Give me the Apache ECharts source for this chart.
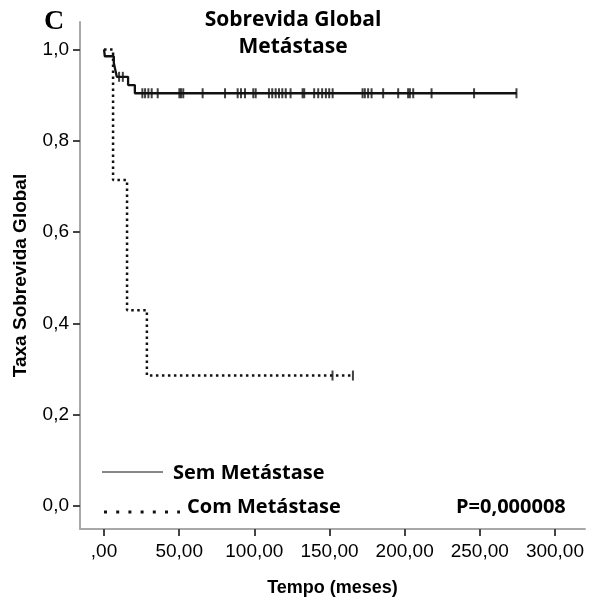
<!DOCTYPE html>
<html>
<head>
<meta charset="utf-8">
<script src="https://cdn.jsdelivr.net/npm/echarts@6/dist/echarts.min.js"></script>
<style>html,body{margin:0;padding:0;background:#fff;}#c{width:589px;height:604px;}</style>
</head>
<body>
<div id="c"></div>
<script>
// Kaplan-Meier steps: [time (months), survival]
const semMetastase = [[0,1],[0.5,0.985],[6.5,0.97],[7.5,0.955],[8.5,0.94],[16,0.922],[20.5,0.904],[274.5,0.904]];
const comMetastase = [[0,1],[6,0.714],[15.3,0.429],[28.5,0.286],[165.6,0.286]];
// censored times
const semCensorTimes = [10,12.5,25.5,27.3,29.5,31.7,35.7,50.1,51.2,52.7,65.6,80.5,88.9,91.1,93.8,99.3,100.9,109.7,111.9,114.2,116.4,118.6,120.9,124.1,132.1,133.2,139.8,142.5,145.1,147.6,149.8,152.1,172,173.5,175.7,178,185.7,195.7,202.3,203.5,205.7,217.9,246.2,274.4];
const semCensorLevel = [0.94,0.94];
const comCensorTimes = [152,165.6];
const xTicks = [0,50,100,150,200,250,300];
const yTicks = [0,0.2,0.4,0.6,0.8,1.0];

function survAt(data, t){ let s = data[0][1]; for (const p of data){ if (p[0] <= t) s = p[1]; } return s; }
const semCensor = semCensorTimes.map((t,i)=>[t, i < semCensorLevel.length ? semCensorLevel[i] : survAt(semMetastase,t)]);
const comCensor = comCensorTimes.map(t=>[t, survAt(comMetastase,t)]);

const chart = echarts.init(document.getElementById('c'), null, {renderer:'canvas'});
chart.setOption({
  animation:false,
  backgroundColor:'#fff',
  grid:{left:80,right:4,top:22,bottom:75,containLabel:false},
  xAxis:{
    type:'value', min:-16, max:320,
    axisLine:{show:true,onZero:false,lineStyle:{color:'#a8a8a8',width:2}},
    axisTick:{show:true,customValues:xTicks,length:7,lineStyle:{color:'#444',width:2}},
    axisLabel:{customValues:xTicks,margin:13,color:'#000',fontFamily:'Liberation Sans',fontSize:19,
      formatter:v=> v===0 ? ',00' : v.toFixed(2).replace('.',',')},
    splitLine:{show:false},
    name:'Tempo (meses)', nameLocation:'middle', nameGap:50,
    nameTextStyle:{fontFamily:'Liberation Sans',fontWeight:'bold',fontSize:18,color:'#000'}
  },
  yAxis:{
    type:'value', min:-0.05, max:1.06,
    axisLine:{show:true,onZero:false,lineStyle:{color:'#a8a8a8',width:2}},
    axisTick:{show:true,customValues:yTicks,length:7,lineStyle:{color:'#444',width:2}},
    axisLabel:{customValues:yTicks,margin:11,color:'#000',fontFamily:'Liberation Sans',fontSize:19,
      formatter:v=> v.toFixed(1).replace('.',',')},
    splitLine:{show:false},
    name:'Taxa Sobrevida Global', nameLocation:'middle', nameGap:50,
    nameTextStyle:{fontFamily:'Liberation Sans',fontWeight:'bold',fontSize:19,color:'#000'}
  },
  series:[
    {type:'line',name:'Sem Metástase',data:semMetastase,step:'end',symbol:'none',
      lineStyle:{color:'#111',width:2.3}},
    {type:'line',name:'Com Metástase',data:comMetastase,step:'end',symbol:'none',
      lineStyle:{color:'#111',width:2.5,type:[2.5,3.5]}},
    {type:'scatter',data:semCensor,symbol:'rect',symbolSize:[2,10],itemStyle:{color:'#111'}},
    {type:'scatter',data:comCensor,symbol:'rect',symbolSize:[2,10],itemStyle:{color:'#111'}}
  ],
  graphic:[
    {type:'text',left:44,top:8,style:{text:'C',font:'bold 28px "Liberation Serif"',fill:'#000'}},
    {type:'text',x:293,y:33.5,style:{text:'Sobrevida Global\nMetástase',font:'bold 21px "Open Sans"',fill:'#000',
      textAlign:'center',textVerticalAlign:'middle',lineHeight:27},z:10},
    {type:'line',shape:{x1:102,y1:472,x2:163,y2:472},style:{stroke:'#111',lineWidth:1}},
    {type:'text',x:173,y:473,style:{text:'Sem Metástase',font:'bold 20px "Open Sans"',fill:'#000',textVerticalAlign:'middle'}},
    {type:'line',shape:{x1:104,y1:512,x2:180,y2:512},style:{stroke:'#111',lineWidth:3,lineDash:[3,9.2]}},
    {type:'text',x:187,y:507,style:{text:'Com Metástase',font:'bold 20px "Open Sans"',fill:'#000',textVerticalAlign:'middle'}},
    {type:'text',x:456,y:507,style:{text:'P=0,000008',font:'bold 20px "Open Sans"',fill:'#000',textVerticalAlign:'middle'}}
  ]
});
</script>
</body>
</html>
